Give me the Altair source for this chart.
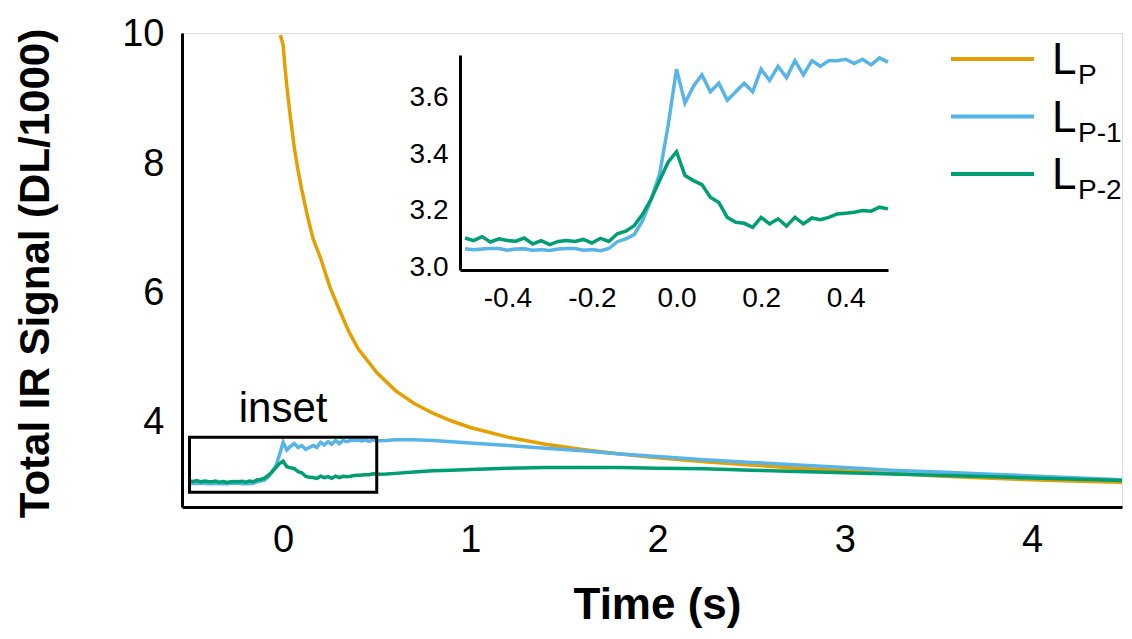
import altair as alt
import pandas as pd

FONT = "Liberation Sans"

SERIES = ["Lp", "Lp-1", "Lp-2"]
SUBS = ["P", "P-1", "P-2"]
COLORS = ["#E69F00", "#56B4E9", "#009E73"]

# Inset sampling grid (s)
T_INSET = [round(-0.5 + 0.02 * i, 2) for i in range(51)]

BLUE_INSET = [3.065, 3.062, 3.064, 3.066, 3.066, 3.060, 3.064, 3.065, 3.060, 3.062,
              3.059, 3.064, 3.066, 3.066, 3.060, 3.062, 3.058, 3.066, 3.090, 3.100,
              3.115, 3.165, 3.240, 3.330, 3.500, 3.700, 3.580, 3.640, 3.680, 3.620,
              3.650, 3.590, 3.620, 3.650, 3.620, 3.700, 3.660, 3.710, 3.670, 3.730,
              3.680, 3.730, 3.710, 3.730, 3.730, 3.735, 3.720, 3.735, 3.715, 3.740,
              3.725]

GREEN_INSET = [3.103, 3.094, 3.108, 3.089, 3.100, 3.094, 3.092, 3.103, 3.082, 3.094,
               3.080, 3.091, 3.094, 3.091, 3.098, 3.085, 3.102, 3.091, 3.118, 3.127,
               3.147, 3.188, 3.241, 3.306, 3.371, 3.408, 3.324, 3.306, 3.292, 3.247,
               3.229, 3.176, 3.159, 3.155, 3.141, 3.176, 3.153, 3.171, 3.145, 3.176,
               3.153, 3.174, 3.168, 3.176, 3.188, 3.191, 3.194, 3.200, 3.198, 3.212,
               3.206]

# Main-panel continuation after the inset window
T_MAIN = [0.55, 0.6, 0.7, 0.8, 0.9, 1.0, 1.2, 1.4, 1.6, 1.8, 2.0, 2.25, 2.5, 2.75,
          3.0, 3.25, 3.5, 3.75, 4.0, 4.25, 4.5]
BLUE_MAIN = [3.73, 3.74, 3.74, 3.73, 3.71, 3.69, 3.65, 3.61, 3.57, 3.52, 3.48, 3.43,
             3.39, 3.35, 3.31, 3.27, 3.24, 3.21, 3.18, 3.15, 3.12]
GREEN_MAIN = [3.21, 3.22, 3.24, 3.26, 3.27, 3.28, 3.30, 3.31, 3.31, 3.31, 3.30, 3.29,
              3.27, 3.25, 3.23, 3.21, 3.19, 3.17, 3.15, 3.13, 3.11]

T_ORANGE = [-0.015, 0.0, 0.01, 0.02, 0.04, 0.06, 0.08, 0.1, 0.13, 0.16, 0.2, 0.25,
            0.3, 0.35, 0.4, 0.5, 0.6, 0.7, 0.8, 0.9, 1.0, 1.2, 1.4, 1.6, 1.8, 2.0,
            2.25, 2.5, 2.75, 3.0, 3.25, 3.5, 3.75, 4.0, 4.25, 4.5]
ORANGE = [10.0, 9.85, 9.5, 9.2, 8.7, 8.25, 7.9, 7.6, 7.2, 6.85, 6.55, 6.1, 5.75,
          5.42, 5.15, 4.78, 4.5, 4.3, 4.15, 4.03, 3.93, 3.78, 3.67, 3.59, 3.52,
          3.46, 3.4, 3.35, 3.3, 3.26, 3.22, 3.18, 3.15, 3.12, 3.1, 3.08]

X_TICKS = [0, 1, 2, 3, 4]
Y_TICKS = [4, 6, 8, 10]
INSET_X_TICKS = [-0.4, -0.2, 0.0, 0.2, 0.4]
INSET_Y_TICKS = [3.0, 3.2, 3.4, 3.6]

BOX_X = [-0.5, 0.5]
BOX_Y = [2.93, 3.78]
INSET_LABEL = ("inset", 0.0, 4.015)

rows = []
for t, v in zip(T_ORANGE, ORANGE):
    rows.append({"t": t, "v": v, "series": "Lp"})
for t, v in zip(T_INSET + T_MAIN, BLUE_INSET + BLUE_MAIN):
    rows.append({"t": t, "v": v, "series": "Lp-1"})
for t, v in zip(T_INSET + T_MAIN, GREEN_INSET + GREEN_MAIN):
    rows.append({"t": t, "v": v, "series": "Lp-2"})
main_df = pd.DataFrame(rows)

inset_rows = []
for t, v in zip(T_INSET, BLUE_INSET):
    inset_rows.append({"t": t, "v": v, "series": "Lp-1"})
for t, v in zip(T_INSET, GREEN_INSET):
    inset_rows.append({"t": t, "v": v, "series": "Lp-2"})
inset_df = pd.DataFrame(inset_rows)

box_df = pd.DataFrame({"x": [BOX_X[0]], "x2": [BOX_X[1]], "y": [BOX_Y[0]], "y2": [BOX_Y[1]]})
label_df = pd.DataFrame({"text": [INSET_LABEL[0]], "x": [INSET_LABEL[1]], "y": [INSET_LABEL[2]]})
legend_df = pd.DataFrame({"series": SERIES, "sub": SUBS, "row": list(range(len(SERIES))), "L": ["L"] * 3})

color = alt.Color("series:N", scale=alt.Scale(domain=SERIES, range=COLORS), legend=None)

# ---------- main panel ----------
W, H = 940, 474
xs_main = alt.Scale(domain=[-0.54, 4.48], nice=False, zero=False)
ys_main = alt.Scale(domain=[2.70, 10.03], nice=False, zero=False)

int_fmt = "format(datum.value, 'd')"
x_axis = alt.Axis(values=X_TICKS, title="Time (s)", grid=False, ticks=False, tickSize=0,
                  labelFontSize=38, labelFont=FONT, labelColor="black", labelPadding=14,
                  labelFlush=False, labelExpr=int_fmt, domainColor="black", domainWidth=3,
                  titleFont=FONT, titleFontSize=44, titleFontWeight="bold", titleColor="black",
                  titleBaseline="alphabetic", titleY=111, titleX=475)
y_axis = alt.Axis(values=Y_TICKS, title="Total IR Signal (DL/1000)", grid=False, ticks=False,
                  tickSize=0, labelFontSize=38, labelFont=FONT, labelColor="black",
                  labelPadding=18, labelFlush=False, labelExpr=int_fmt,
                  domainColor="black", domainWidth=3,
                  titleFont=FONT, titleFontSize=42, titleFontWeight="bold", titleColor="black",
                  titleAngle=270, titleAlign="center", titleBaseline="middle",
                  titleX=-147, titleY=240)

main_lines = alt.Chart(main_df).mark_line(strokeWidth=3.5, clip=True).encode(
    x=alt.X("t:Q", scale=xs_main, axis=x_axis),
    y=alt.Y("v:Q", scale=ys_main, axis=y_axis),
    color=color,
    detail="series:N",
)
box = alt.Chart(box_df).mark_rect(fillOpacity=0, stroke="black", strokeWidth=3).encode(
    x="x:Q", x2="x2:Q", y="y:Q", y2="y2:Q"
)
inset_text = alt.Chart(label_df).mark_text(font=FONT, fontSize=42, baseline="alphabetic",
                                           align="center", color="black").encode(
    x="x:Q", y="y:Q", text="text:N"
)
main_layer = alt.layer(main_lines, box, inset_text)

# ---------- inset panel (own scales, placed inside plot area) ----------
IN_LEFT, IN_RIGHT, IN_TOP, IN_BOTTOM = 278, 706, 22, 237
xs_in = alt.Scale(domain=[-0.512, 0.5], range=[IN_LEFT, IN_RIGHT], nice=False, zero=False)
ys_in = alt.Scale(domain=[2.99, 3.75], range=[IN_BOTTOM, IN_TOP], nice=False, zero=False)
fmt = "replace(format(datum.value, '.1f'), '\u2212', '-')"
in_x_axis = alt.Axis(values=INSET_X_TICKS, orient="bottom", offset=-(H - IN_BOTTOM), title=None,
                     grid=False, ticks=False, tickSize=0, labelFontSize=28, labelFont=FONT,
                     labelColor="black", labelPadding=14, labelFlush=False, labelExpr=fmt,
                     domainColor="black", domainWidth=3)
in_y_axis = alt.Axis(values=INSET_Y_TICKS, orient="left", offset=-IN_LEFT, title=None,
                     grid=False, ticks=False, tickSize=0, labelFontSize=28, labelFont=FONT,
                     labelColor="black", labelPadding=12, labelFlush=False, labelExpr=fmt,
                     domainColor="black", domainWidth=3)
inset_lines = alt.Chart(inset_df).mark_line(strokeWidth=3.5).encode(
    x=alt.X("t:Q", scale=xs_in, axis=in_x_axis),
    y=alt.Y("v:Q", scale=ys_in, axis=in_y_axis),
    color=color,
    detail="series:N",
)

# ---------- custom legend with subscripts ----------
ys_leg = alt.Scale(domain=[0, 2], range=[26, 141], nice=False, zero=False)
leg_y = alt.Y("row:Q", scale=ys_leg, axis=None)
leg_lines = alt.Chart(legend_df).mark_rule(strokeWidth=4).encode(
    x=alt.value(769), x2=alt.value(852), y=leg_y, color=color
)
leg_L = alt.Chart(legend_df).mark_text(font=FONT, fontSize=44, align="left",
                                       baseline="alphabetic", dy=15, color="black").encode(
    x=alt.value(870), y=leg_y, text="L:N"
)
leg_sub = alt.Chart(legend_df).mark_text(font=FONT, fontSize=28, align="left",
                                         baseline="alphabetic", dy=25, color="black").encode(
    x=alt.value(896), y=leg_y, text="sub:N"
)
legend_layer = alt.layer(leg_lines, leg_L, leg_sub)

chart = alt.layer(main_layer, inset_lines, legend_layer).resolve_scale(
    x="independent", y="independent"
).properties(
    width=W, height=H,
    padding={"left": 174, "top": 25, "right": 2, "bottom": 122},
    autosize="none",
).configure_view(stroke=None).configure(background="white")

chart.save("out.html", embed_options={"renderer": "svg", "actions": False})
